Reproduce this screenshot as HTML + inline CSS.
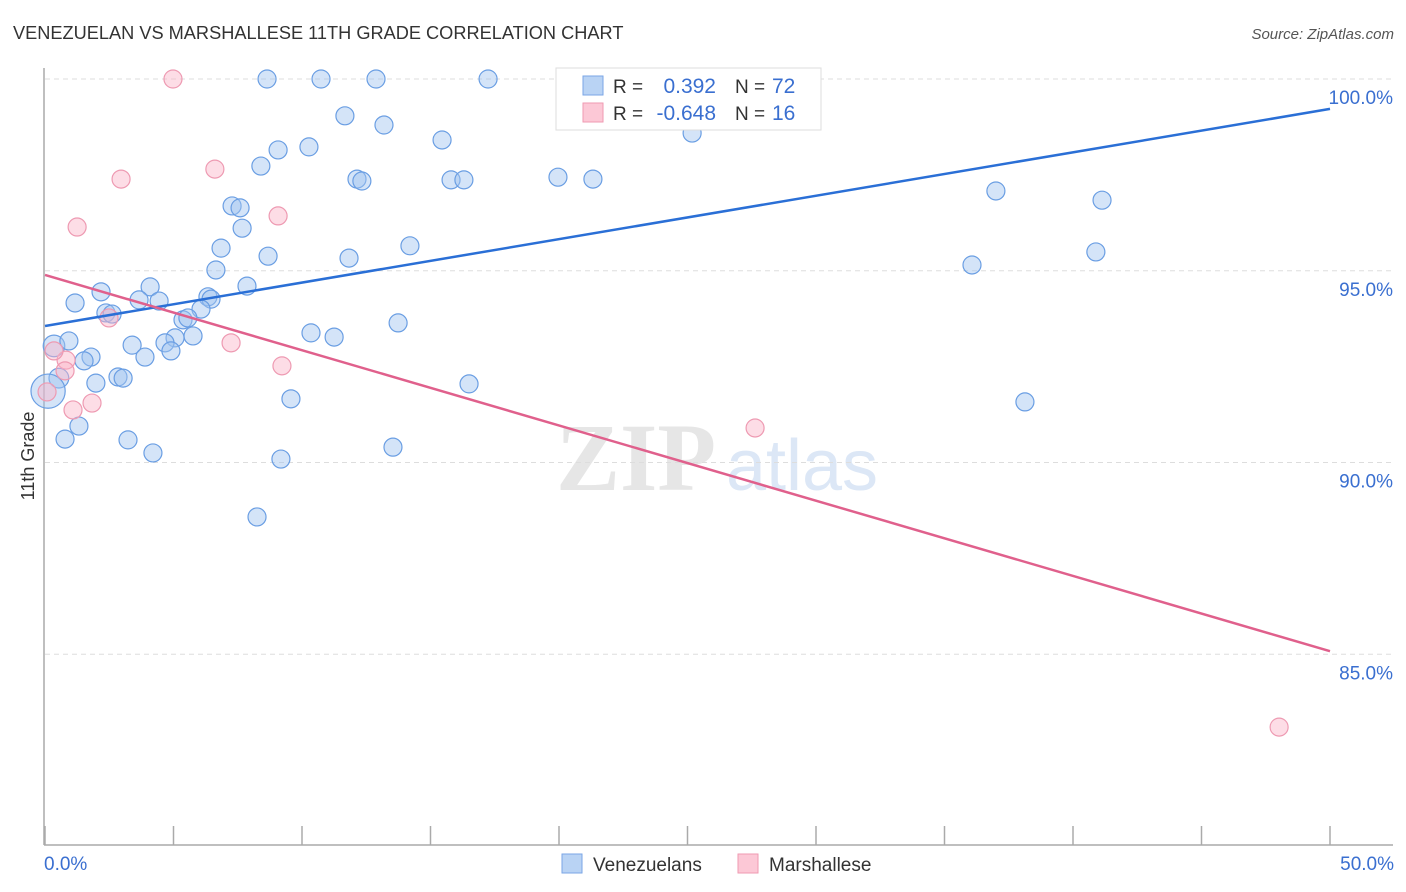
<!DOCTYPE html>
<html><head><meta charset="utf-8"><style>
body{margin:0;background:#fff;font-family:"Liberation Sans",sans-serif;}
svg{display:block}
</style></head><body>
<svg id="chart" width="1406" height="892">
<text x="13" y="39" font-size="18.2" fill="#333">VENEZUELAN VS MARSHALLESE 11TH GRADE CORRELATION CHART</text>
<text x="1394" y="39" font-size="15" fill="#555" text-anchor="end" font-style="italic">Source: ZipAtlas.com</text>
<g>
<text x="636" y="490" font-size="96" fill="#e6e6e6" text-anchor="middle" font-family="Liberation Serif,serif" font-weight="bold">ZIP</text>
<text x="802" y="490" font-size="72" fill="#dce7f6" text-anchor="middle">atlas</text>
</g>
<g id="grid"></g>
<g id="axes"></g>
<g id="marks"></g>
<text transform="translate(34,456) rotate(-90)" font-size="18" fill="#333" text-anchor="middle">11th Grade</text>
<g>
<rect x="556" y="68" width="265" height="62" fill="#fff" stroke="#ddd"/>
<rect x="583" y="76" width="20" height="19" fill="#b9d3f4" stroke="#7aa6e6"/>
<rect x="583" y="103" width="20" height="19" fill="#fcc8d6" stroke="#ef9ab2"/>
<text x="613" y="93" font-size="19" fill="#333">R =</text>
<text x="716" y="93" font-size="21" fill="#3a6fd0" text-anchor="end">0.392</text>
<text x="735" y="93" font-size="19" fill="#333">N =</text>
<text x="772" y="93" font-size="21" fill="#3a6fd0">72</text>
<text x="613" y="120" font-size="19" fill="#333">R =</text>
<text x="716" y="120" font-size="21" fill="#3a6fd0" text-anchor="end">-0.648</text>
<text x="735" y="120" font-size="19" fill="#333">N =</text>
<text x="772" y="120" font-size="21" fill="#3a6fd0">16</text>
</g>
<g>
<rect x="562" y="854" width="20" height="19" fill="#b9d3f4" stroke="#7aa6e6"/>
<text x="593" y="871" font-size="19" fill="#333">Venezuelans</text>
<rect x="738" y="854" width="20" height="19" fill="#fcc8d6" stroke="#ef9ab2"/>
<text x="769" y="871" font-size="19" fill="#333">Marshallese</text>
</g>
</svg>
<script>
const yTicks=[100,95,90,85];
const yTickLabels=["100.0%","95.0%","90.0%","85.0%"];
const xTicks=[0,5,10,15,20,25,30,35,40,45,50];
const blueX=[8.64,10.74,12.88,17.24,21.98,11.67,13.19,15.45,10.27,9.07,8.40,12.14,12.33,15.80,16.30,19.96,21.32,25.18,37.00,41.13,7.28,7.59,7.67,6.85,8.68,11.83,14.20,6.65,36.07,40.89,2.18,4.09,7.86,6.34,6.46,1.17,3.66,4.44,6.07,2.37,2.61,5.37,5.56,5.76,5.06,10.35,11.25,13.74,0.35,0.93,3.39,4.67,1.79,1.52,3.89,4.90,2.84,3.04,0.54,1.98,16.50,9.57,38.13,1.32,0.78,3.23,4.20,13.54,9.18,8.25,0.12];
const blueY=[100,100,100,100,100,99.04,98.80,98.41,98.23,98.15,97.73,97.39,97.34,97.37,97.37,97.44,97.39,98.59,97.08,96.84,96.69,96.64,96.11,95.59,95.38,95.33,95.65,95.02,95.15,95.49,94.45,94.58,94.60,94.32,94.26,94.16,94.24,94.21,94.00,93.90,93.87,93.72,93.77,93.30,93.25,93.38,93.27,93.64,93.04,93.17,93.06,93.12,92.75,92.65,92.75,92.91,92.23,92.20,92.20,92.07,92.05,91.66,91.58,90.95,90.61,90.59,90.25,90.40,90.09,88.58,91.86];
const blueSize=[1,1,1,1,1,1,1,1,1,1,1,1,1,1,1,1,1,1,1,1,1,1,1,1,1,1,1,1,1,1,1,1,1,1,1,1,1,1,1,1,1,1,1,1,1,1,1,1,1.2,1,1,1,1,1,1,1,1,1,1.1,1,1,1,1,1,1,1,1,1,1,1,1.9];
const pinkX=[4.98,2.96,6.61,1.25,9.07,2.49,7.24,9.22,0.82,0.78,1.09,1.83,0.35,0.08,27.63,48.02];
const pinkY=[100,97.39,97.65,96.14,96.43,93.77,93.12,92.52,92.67,92.39,91.37,91.55,92.91,91.84,90.90,83.10];
const blueTrend=[93.56,99.22];
const pinkTrend=[94.89,85.08];
const X0=45,X1=1330,Y100=79,PXPCT=38.35;
const sx=v=>X0+(X1-X0)*v/50;
const sy=v=>Y100+(100-v)*PXPCT;
const NS="http://www.w3.org/2000/svg";
function mk(t,a,p){const e=document.createElementNS(NS,t);for(const k in a)e.setAttribute(k,a[k]);p.appendChild(e);return e;}
const grid=document.getElementById('grid'),axes=document.getElementById('axes'),marks=document.getElementById('marks');
yTicks.forEach((v,i)=>{
 const l=mk('line',{x1:45,x2:1393,y1:sy(v),y2:sy(v),stroke:'#ddd','stroke-dasharray':'5,4'},grid);
 
 
 const t=mk('text',{x:1393,y:sy(v)+25,'font-size':19,fill:'#3a6fd0','text-anchor':'end'},axes);
 t.textContent=yTickLabels[i];
 
 
});
const ya=mk('line',{x1:44,x2:44,y1:68,y2:845,stroke:'#aaa','stroke-width':1.5},axes);


const xa=mk('line',{x1:44,x2:1393,y1:845,y2:845,stroke:'#aaa','stroke-width':1.5},axes);


xTicks.forEach(v=>{
 const l=mk('line',{x1:sx(v),x2:sx(v),y1:826,y2:845,stroke:'#aaa','stroke-width':1.5},axes);
 
 
});
[[0,'0.0%','start',44],[50,'50.0%','end',1394]].forEach(d=>{
 const t=mk('text',{x:d[3],y:870,'font-size':19,fill:'#3a6fd0','text-anchor':d[2]},axes);
 t.textContent=d[1];
 
 
});
blueX.forEach((x,i)=>{
 const c=mk('circle',{cx:sx(x),cy:sy(blueY[i]),r:9*blueSize[i],fill:'rgba(160,196,240,0.45)',stroke:'#6a9ee3','stroke-width':1.2},marks);
 
 
});
pinkX.forEach((x,i)=>{
 const c=mk('circle',{cx:sx(x),cy:sy(pinkY[i]),r:9,fill:'rgba(250,180,200,0.45)',stroke:'#ee9ab2','stroke-width':1.2},marks);
 
 
});
const bl=mk('line',{x1:sx(0),y1:sy(blueTrend[0]),x2:sx(50),y2:sy(blueTrend[1]),stroke:'#2a6fd6','stroke-width':2.5},marks);


const pl=mk('line',{x1:sx(0),y1:sy(pinkTrend[0]),x2:sx(50),y2:sy(pinkTrend[1]),stroke:'#e0608c','stroke-width':2.5},marks);


</script>
</body></html>
